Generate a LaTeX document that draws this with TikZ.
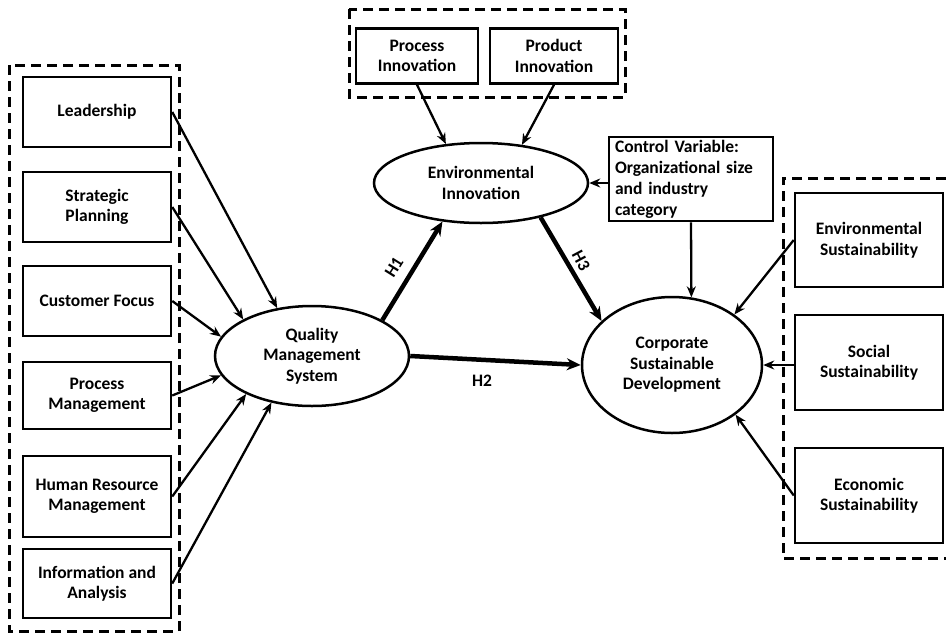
\documentclass[tikz,border=0pt]{standalone}
\usepackage{fontspec}
\setmainfont{Carlito}
\usetikzlibrary{arrows.meta,calc,shapes.geometric}
\begin{document}
\begin{tikzpicture}[x=1pt,y=-1pt,
  txt/.style={font=\fontsize{17.5}{20.5}\selectfont\bfseries},
  box/.style={txt, draw, line width=2.5pt, align=center, inner sep=0pt, minimum width=148pt},
  oval/.style={txt, draw, ellipse, line width=2.5pt, align=center, inner sep=0pt},
  grp/.style={line width=3pt, dash pattern=on 10pt off 6pt},
  arr/.style={line width=2.3pt, -{Stealth[length=11pt,width=9pt]}},
  harr/.style={line width=4.5pt, -{Stealth[length=14pt,width=12pt]}},
  hlab/.style={txt, inner sep=0pt}
]
\useasboundingbox (0,0) rectangle (946,633);

% dashed groups
\draw[grp] (9,65) rectangle (179,631);
\draw[grp] (349,9) rectangle (625,97);
\draw[grp] (946,178) -- (783,178) -- (783,558) -- (946,558);

% left boxes
\node[box, minimum height=70pt] (lead) at (97,112) {Leadership};
\node[box, minimum height=70pt] (strat) at (97,207) {Strategic\\Planning};
\node[box, minimum height=70pt] (cust) at (97,301) {Customer Focus};
\node[box, minimum height=67pt] (procm) at (97,395.5) {Process\\Management};
\node[box, minimum height=81pt] (hrm) at (97,496.5) {Human Resource\\Management};
\node[box, minimum height=69pt] (info) at (97,583.5) {Information and\\Analysis};

% top boxes
\node[box, minimum width=122pt, minimum height=55pt] (pinn) at (417,56) {Process\\Innovation};
\node[box, minimum width=128pt, minimum height=55pt] (prinn) at (554,56) {Product\\Innovation};

% control variable
\node[txt, draw, line width=2.5pt, align=left, text width=152pt, inner xsep=6pt, inner ysep=0pt,
      minimum height=84pt, font=\fontsize{17.5}{21}\selectfont\bfseries] (ctrl) at (691,179)
      {Control Variable:\\Organizational size\\and industry\\category};

% right boxes
\node[box, minimum height=94pt] (envs) at (869,240) {Environmental\\Sustainability};
\node[box, minimum height=95pt] (socs) at (869,362.5) {Social\\Sustainability};
\node[box, minimum height=95pt] (ecos) at (869,495.5) {Economic\\Sustainability};

% ellipses
\node[oval, minimum width=194pt, minimum height=100pt] (qms) at (312,356) {Quality\\Management\\System};
\node[oval, minimum width=214pt, minimum height=80pt] (ei) at (481,183) {Environmental\\Innovation};
\node[oval, minimum width=180pt, minimum height=136pt] (csd) at (672,365) {Corporate\\Sustainable\\Development};

% left arrows
\draw[arr] (lead.east) -- (qms.126.9);
\draw[arr] (strat.east) -- (qms.152.4);
\draw[arr] (cust.east) -- (qms.168.8);
\draw[arr] (procm.east) -- (qms.192.5);
\draw[arr] (hrm.east) -- (qms.210.7);
\draw[arr] (info.east) -- (qms.229.2);

% top arrows
\draw[arr] (pinn.south) -- (ei.132);
\draw[arr] (prinn.south) -- (ei.43);

% control arrows
\draw[arr] (ctrl.west |- ei.east) -- (ei.east);
\draw[arr] (ctrl.south) -- (csd.74);

% right arrows
\draw[arr] (envs.west) -- (csd.39.5);
\draw[arr] (socs.west |- csd.east) -- (csd.east);
\draw[arr] (ecos.west) -- (csd.322.6);

% hypotheses
\draw[harr] (qms.27.9) -- (ei.225);
\draw[harr] (ei.330.6) -- (csd.148.7);
\draw[harr] (qms.east) -- (csd.west);
\node[hlab, rotate=58] (h1) at (394,267) {H1};
\node[hlab, rotate=-62] (h3) at (581,261) {H3};
\node[hlab] (h2) at (482,381) {H2};
\end{tikzpicture}
\end{document}
